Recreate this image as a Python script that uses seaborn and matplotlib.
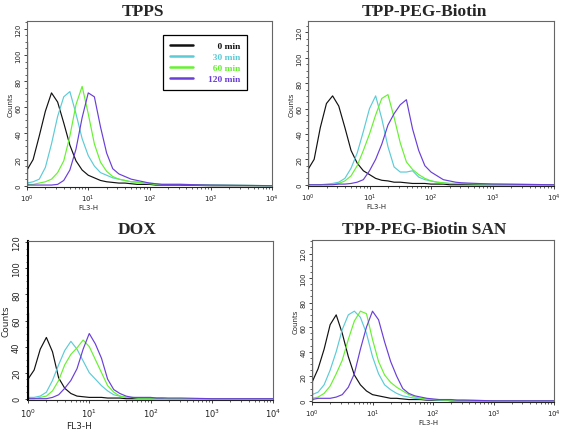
import numpy as np
import pandas as pd
import matplotlib
matplotlib.use("Agg")
import matplotlib.pyplot as plt
import seaborn as sns
from matplotlib.lines import Line2D
from matplotlib.ticker import MultipleLocator, LogLocator, NullFormatter

# ---------------- data ----------------
# channel positions in decades of FL3-H (10**decade)
decades = [0.0, 0.1, 0.2, 0.3, 0.4, 0.5, 0.6, 0.7, 0.8, 0.9, 1.0, 1.1, 1.2, 1.3,
           1.4, 1.5, 1.6, 1.7, 1.8, 1.9, 2.0, 2.1, 2.2, 2.3, 2.4, 2.5, 3.0, 4.0]
times = ["0 min", "30 min", "60 min", "120 min"]
panel_titles = ["TPPS", "TPP-PEG-Biotin", "DOX", "TPP-PEG-Biotin SAN"]

tpps_0 = [12, 20, 38, 57, 71, 64, 48, 31, 19, 12, 8, 6, 4, 3, 2.5, 2, 2, 1.5, 1, 1, 1, 0.5, 0.5, 0.5, 0.5, 0.5, 0, 0]
tpps_30 = [2, 3, 5, 14, 32, 53, 68, 72, 55, 36, 23, 15, 10, 8, 6, 5, 4, 3, 3, 2, 2, 1.5, 1, 1, 1, 1, 0.5, 0]
tpps_60 = [1, 1, 2, 3, 5, 10, 19, 38, 62, 76, 55, 32, 18, 11, 7, 5, 4, 3, 2.5, 2, 1.5, 1, 1, 1, 1, 1, 0.5, 0]
tpps_120 = [0.5, 0.5, 0.5, 0.5, 0.5, 1, 4, 12, 28, 52, 71, 68, 45, 25, 13, 9, 7, 5, 4, 3, 2, 1.5, 1, 1, 1, 1, 0.5, 0]

peg_0 = [12, 20, 45, 64, 70, 62, 45, 27, 17, 11, 8, 5, 3.5, 3, 2, 2, 1.5, 1, 1, 1, 0.5, 0.5, 0.5, 0, 0, 0, 0, 0]
peg_30 = [0, 0, 0, 0.5, 1, 2, 5, 13, 25, 42, 60, 70, 52, 30, 14, 10, 10, 11, 6, 4, 3, 2, 1.5, 1, 1, 1, 0.5, 0]
peg_60 = [0, 0, 0, 0, 0.5, 1, 3, 7, 15, 27, 40, 55, 68, 71, 53, 33, 18, 12, 8, 5, 3, 2, 1.5, 1, 1, 1, 0.5, 0]
peg_120 = [0, 0, 0, 0, 0, 0.5, 0.5, 1, 2, 4, 11, 20, 32, 47, 56, 63, 67, 44, 27, 15, 10, 7, 4, 3, 2, 1.5, 0.5, 0]

dox_0 = [15, 22, 38, 47, 36, 16, 8, 4, 2, 1.5, 1, 1, 1, 0.5, 0.5, 0.5, 0, 0, 0, 0, 0, 0, 0, 0, 0, 0, 0, 0]
dox_30 = [1, 1, 2, 5, 14, 26, 37, 44, 38, 29, 20, 15, 10, 6, 3, 2, 1, 1, 0.5, 0.5, 0.5, 0.5, 0.5, 0, 0, 0, 0, 0]
dox_60 = [0, 0, 1, 2, 6, 14, 26, 34, 39, 45, 40, 30, 20, 10, 5, 2, 1, 1, 0.5, 0.5, 0.5, 0.5, 0.5, 0, 0, 0, 0, 0]
dox_120 = [0, 0, 0, 0, 1, 3, 8, 14, 23, 38, 50, 42, 31, 15, 7, 4, 2, 1, 1, 1, 1, 0.5, 0.5, 0.5, 0.5, 0.5, 0, 0]

san_0 = [15, 26, 42, 62, 70, 55, 36, 21, 13, 8, 5, 4, 3, 2, 2, 1.5, 1, 1, 1, 0.5, 0.5, 0.5, 0.5, 0, 0, 0, 0, 0]
san_30 = [5, 7, 13, 25, 40, 58, 70, 73, 68, 55, 36, 22, 13, 9, 6, 4, 3, 2, 1.5, 1, 1, 0.5, 0.5, 0.5, 0.5, 0.5, 0, 0]
san_60 = [2, 3, 6, 12, 22, 33, 50, 65, 73, 71, 50, 32, 21, 15, 11, 8, 5, 3, 2, 1.5, 1, 1, 0.5, 0.5, 0.5, 0.5, 0, 0]
san_120 = [1, 2, 2, 2, 3, 5, 11, 22, 42, 60, 73, 66, 48, 32, 20, 10, 6, 4, 3, 2, 1.5, 1, 1, 1, 0.5, 0.5, 0, 0]

# first-channel (off-scale) counts drawn as a spike at FL3-H = 1
first_bin = [110, 100, 66, 58]

series = [
    [tpps_0, tpps_30, tpps_60, tpps_120],
    [peg_0, peg_30, peg_60, peg_120],
    [dox_0, dox_30, dox_60, dox_120],
    [san_0, san_30, san_60, san_120],
]

# ---------------- style ----------------
colors = ["#111111", "#5ccbd6", "#66f230", "#6a3fd8"]
palette = dict(zip(times, colors))

sns.set_theme(style="ticks")
plt.rcParams["font.family"] = ["DejaVu Sans"]

fig = plt.figure(figsize=(5.62, 4.35), dpi=100)
W, H = 562, 435

# axes boxes in pixels: left, top, right, bottom
boxes = [(27, 22, 272, 188), (308, 22, 554, 187), (28, 242, 273, 401), (312, 241, 554, 403)]
ylims = [(-1, 126), (-1, 129), (-1, 121), (-1, 131)]
title_pos = [(143, 12), (424, 12), (137, 230), (424, 230)]
xlabel_x = [0.25, 0.28, 0.21, 0.48]
small = [True, True, False, True]

for i, (l, t, r, b) in enumerate(boxes):
    ax = fig.add_axes([l / W, 1 - b / H, (r - l) / W, (b - t) / H])
    rows = []
    for name, vals in zip(times, series[i]):
        for d, v in zip(decades, vals):
            rows.append({"FL3-H": 10 ** d, "Counts": v, "time": name})
    df = pd.DataFrame(rows)
    sns.lineplot(data=df, x="FL3-H", y="Counts", hue="time", hue_order=times,
                 palette=palette, estimator=None, linewidth=0.85, legend=False, ax=ax)
    spike = pd.DataFrame({"x": [1, 1], "y": [0, first_bin[i]]})
    sns.lineplot(data=spike, x="x", y="y", sort=False, color="black",
                 linewidth=1.6, estimator=None, ax=ax)

    ax.set_xscale("log")
    ax.set_xlim(1, 1e4)
    ax.set_ylim(*ylims[i])
    ax.yaxis.set_major_locator(MultipleLocator(20))
    ax.yaxis.set_minor_locator(MultipleLocator(5))
    ax.xaxis.set_major_locator(LogLocator(base=10, numticks=10))
    ax.xaxis.set_minor_locator(LogLocator(base=10, subs=np.arange(2, 10), numticks=50))
    ax.xaxis.set_minor_formatter(NullFormatter())

    fs = 5 if small[i] else 6
    lfs = 5 if small[i] else 6.5
    ax.tick_params(axis="both", which="major", labelsize=fs, length=2.5, width=0.6,
                   pad=1.5 if small[i] else 2.5, colors="#222222")
    ax.tick_params(axis="both", which="minor", length=1.5, width=0.5, colors="#222222")
    ax.tick_params(axis="y", labelrotation=90)
    for lab in ax.get_yticklabels():
        lab.set_va("center")
    ax.set_ylabel("Counts", fontsize=lfs, labelpad=1)
    ax.set_xlabel("FL3-H", fontsize=lfs, labelpad=0.5)
    ax.xaxis.set_label_coords(xlabel_x[i], -0.105 if small[i] else -0.135)

    for side, sp in ax.spines.items():
        sp.set_linewidth(0.8)
        sp.set_color("#666666")
    ax.spines["bottom"].set_color("#222222")
    if i == 2:
        ax.spines["left"].set_color("black")
        ax.spines["left"].set_linewidth(1.5)

    fig.text(title_pos[i][0] / W, 1 - title_pos[i][1] / H, panel_titles[i],
             ha="center", va="center", fontsize=12.5, fontweight="bold",
             family=["Liberation Serif", "DejaVu Serif"])

    if i == 0:
        labels = ["\u2007\u20070 min", "\u200730 min", "\u200760 min", "120 min"]
        handles = [Line2D([0], [0], color=c, lw=1.8) for c in colors]
        leg = ax.legend(handles, labels, loc="upper left", bbox_to_anchor=(0.555, 0.918),
                        frameon=True, fancybox=False, framealpha=1, edgecolor="black",
                        prop={"family": ["Liberation Serif", "DejaVu Serif"], "weight": "bold", "size": 6.8},
                        labelcolor=colors, handlelength=2.4, handletextpad=1.6,
                        borderpad=0.75, labelspacing=0.25, borderaxespad=0)
        leg.get_frame().set_linewidth(0.9)

fig.savefig("out.png", dpi=100)
